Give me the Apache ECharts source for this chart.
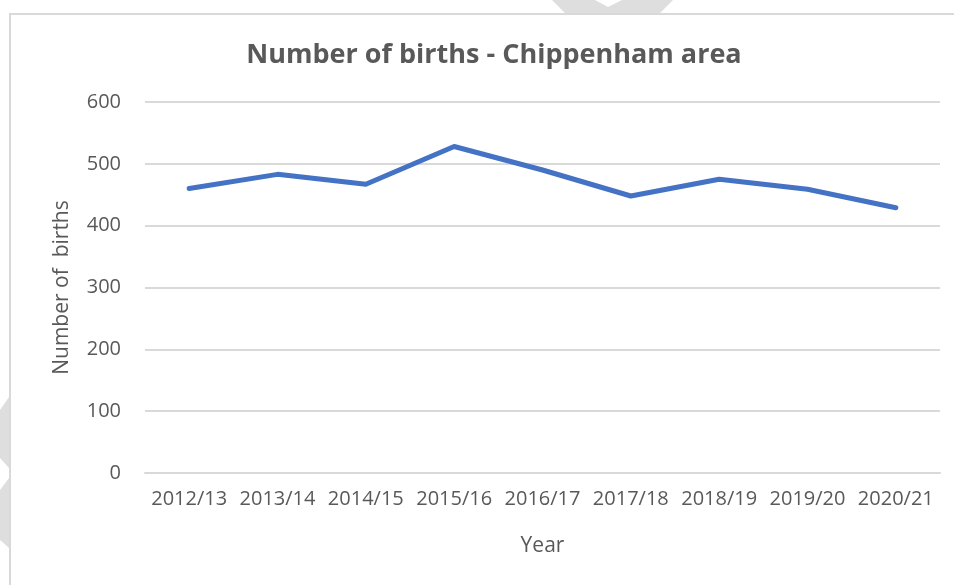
<!DOCTYPE html>
<html>
<meta charset="utf-8" />
<head>
  <script src="https://cdn.jsdelivr.net/npm/echarts@6.0.0/dist/echarts.min.js"></script>
  <style>
    html, body { margin: 0; padding: 0; background: #fff; }
    #chart { width: 954px; height: 585px; }
  </style>
</head>
<body>
  <div id="chart"></div>
  <script>
    // data
    const years = ["2012/13", "2013/14", "2014/15", "2015/16", "2016/17", "2017/18", "2018/19", "2019/20", "2020/21"];
    const births = [460, 483, 467, 528, 490, 448, 475, 459, 429];
    const yTicks = [0, 100, 200, 300, 400, 500, 600];

    const grey = "#595959";
    const font = "Open Sans";

    const myChart = echarts.init(document.getElementById("chart"));
    const option = {
      backgroundColor: "#fff",
      textStyle: { fontFamily: font, color: grey },
      title: {
        text: "Number of births - Chippenham area",
        left: 489,
        top: 37,
        textAlign: "center",
        textStyle: { fontFamily: font, fontSize: 27, fontWeight: "bold", color: grey }
      },
      graphic: [
        // chart frame (only top and left edges visible)
        { type: "rect", shape: { x: 10, y: 14, width: 1000, height: 700 }, style: { fill: "none", stroke: "#d9d9d9", lineWidth: 2 }, z: -1 },
        // faint watermark shapes outside the frame
        { type: "polygon", shape: { points: [[552, 0], [595, 0], [608, 7], [622, 0], [673, 0], [660, 13], [565, 13]] }, style: { fill: "#dedede" }, z: -2 },
        { type: "polygon", shape: { points: [[0, 410], [9, 397], [9, 468], [0, 458]] }, style: { fill: "#dedede" }, z: -2 },
        { type: "polygon", shape: { points: [[0, 490], [9, 478], [9, 548], [0, 540]] }, style: { fill: "#dedede" }, z: -2 }
      ],
      grid: { left: 145, right: 14, top: 102, bottom: 112, containLabel: false },
      xAxis: {
        type: "category",
        data: years,
        boundaryGap: true,
        name: "Year",
        nameLocation: "middle",
        nameGap: 63,
        nameTextStyle: { fontSize: 21, color: grey, fontFamily: font },
        axisLine: { show: true, lineStyle: { color: "#d9d9d9", width: 2 } },
        axisTick: { show: false },
        axisLabel: { interval: 0, hideOverlap: false, margin: 16, fontSize: 20, color: grey, fontFamily: font }
      },
      yAxis: {
        type: "value",
        min: yTicks[0],
        max: yTicks[yTicks.length - 1],
        interval: 100,
        name: "Number of  births",
        nameLocation: "middle",
        nameGap: 72,
        nameTextStyle: { fontSize: 21, color: grey, fontFamily: font },
        axisLine: { show: false },
        axisTick: { show: false },
        axisLabel: { margin: 24, fontSize: 20, color: grey, fontFamily: font },
        splitLine: { lineStyle: { color: "#d9d9d9", width: 2 } }
      },
      series: [{
        type: "line",
        data: births,
        symbol: "none",
        smooth: false,
        lineStyle: { color: "#4472c4", width: 5, cap: "round", join: "round" },
        itemStyle: { color: "#4472c4" }
      }]
    };
    myChart.setOption(option);
  </script>
</body>
</html>
